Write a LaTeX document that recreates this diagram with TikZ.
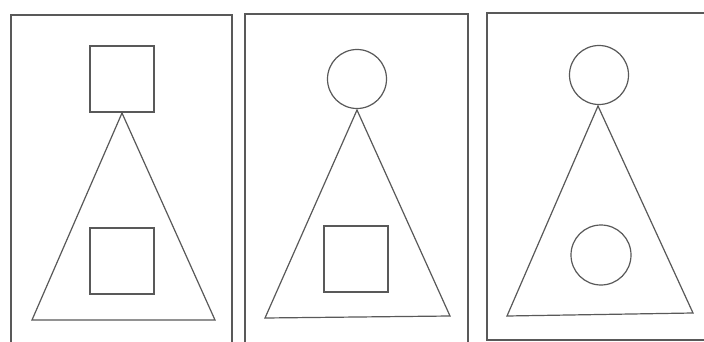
\documentclass[tikz,border=0pt]{standalone}
\usetikzlibrary{positioning}

\tikzset{
  line/.style={draw=black!65, line width=1.2pt},
  sqbox/.style={line, rectangle, minimum width=64pt, minimum height=66pt, inner sep=0pt},
  rnd/.style={line, circle, minimum size=#1, inner sep=0pt},
  rnd/.default=59pt
}

\begin{document}
\begin{tikzpicture}[x=1pt, y=-1pt]
\useasboundingbox[fill=white] (0,0) rectangle (704,342);
\clip (0,0) rectangle (704,342);

% panel frames
\draw[line] (11,350) -- (11,15) -- (232,15) -- (232,350);
\draw[line] (245,350) -- (245,14) -- (468,14) -- (468,350);
\draw[line] (720,340) -- (487,340) -- (487,13) -- (720,13);

% left panel
\node[sqbox] (topA) at (122,79) {};
\node[sqbox] (botA) at (122,261) {};
\coordinate (apexA) at (122,113);
\draw[line] (apexA) -- (32,320) -- (215,320) -- cycle;

% middle panel
\node[rnd] (topB) at (357,79) {};
\node[sqbox] (botB) at (356,259) {};
\coordinate (apexB) at (357,110);
\draw[line] (apexB) -- (265,318) -- (450,316) -- cycle;

% right panel
\node[rnd] (topC) at (599,75) {};
\node[rnd=60pt] (botC) at (601,255) {};
\coordinate (apexC) at (598,106);
\draw[line] (apexC) -- (507,316) -- (693,313) -- cycle;
\end{tikzpicture}
\end{document}
